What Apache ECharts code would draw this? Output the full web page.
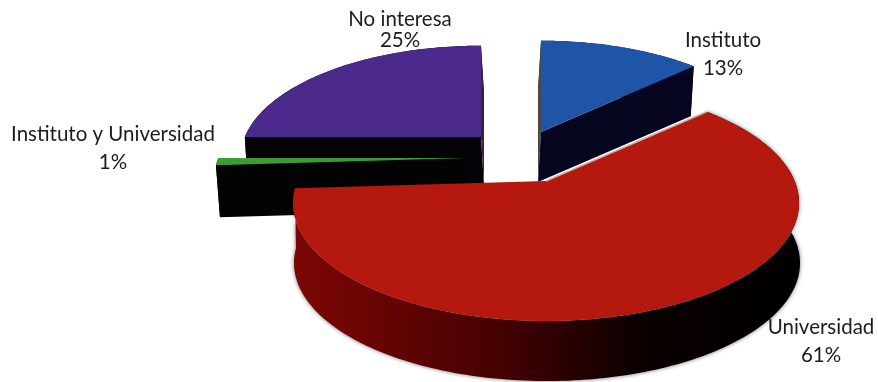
<!DOCTYPE html>
<html>
<head>
<meta charset="utf-8">
<style>html,body{margin:0;padding:0;background:#fff}#chart{width:878px;height:382px}</style>
<script src="https://cdn.jsdelivr.net/npm/echarts@6/dist/echarts.min.js"></script>
</head>
<body>
<div id="chart"></div>
<script>
// Share of respondents by planned study path (percent), clockwise from twelve o'clock.
var categories = ['Instituto', 'Universidad', 'Instituto y Universidad', 'No interesa'];
var percentages = [13, 61, 1, 25];

// Perspective of the tilted disc: half-width, half-height and foreshortening.
var DISC = { b: 248.6, a: 114, k: 0.186 };

// Placement of each exploded wedge, indexed like the categories.
var wedges = [
  { cx: 541, cy: 132, scale: 0.95, depth: 50, dx: -3, z: 2,
    top: '#1f55a6', arc: '#05051f', startWall: '#4b4a45', endWall: '#05051f',
    lx: 723, ly: 54, lh: 28 },
  { cx: 546, cy: 181, scale: 1, depth: 60, dx: 1, z: 6,
    top: '#b5180f',
    arc: { type: 'linear', x: 0, y: 0, x2: 1, y2: 0, colorStops: [
      { offset: 0, color: '#7d0705' }, { offset: 0.4, color: '#470101' },
      { offset: 0.68, color: '#0c0000' }, { offset: 1, color: '#000' }] },
    edge: '#cdb09f', lx: 821, ly: 341, lh: 28 },
  { cx: 467, cy: 158, scale: 1, depth: 52, dx: 4, z: 4,
    top: '#3f9b35', arc: '#030303', startWall: '#030303', endWall: '#030303',
    lx: 113, ly: 148, lh: 28 },
  { cx: 481, cy: 137, scale: 0.95, depth: 48, dx: 3, z: 1,
    top: '#4b2a8b', arc: '#050208', startWall: '#050208', endWall: '#3a2146',
    lx: 400, ly: 30, lh: 21 }
];

var total = percentages.reduce(function (s, v) { return s + v; }, 0);

function project(w, theta) {
  var u = Math.sin(theta), v = Math.cos(theta), s = 1 / (1 + DISC.k * v);
  return [w.cx + w.scale * DISC.b * u * s, w.cy - w.scale * DISC.a * v * s];
}

function arcPoints(w, from, to) {
  var pts = [], steps = Math.max(4, Math.ceil((to - from) / 0.02));
  for (var i = 0; i <= steps; i++) pts.push(project(w, from + (to - from) * i / steps));
  return pts;
}

function sink(w, p) { return [p[0] + w.dx, p[1] + w.depth]; }

function poly(points, fill, z2, extra) {
  var style = { fill: fill };
  if (extra) for (var key in extra) style[key] = extra[key];
  return { type: 'polygon', z2: z2, shape: { points: points }, style: style };
}

function renderWedge(params, api) {
  var i = params.dataIndex, w = wedges[i], before = 0;
  for (var n = 0; n < i; n++) before += percentages[n];
  var from = before / total * Math.PI * 2;
  var to = (before + api.value(0)) / total * Math.PI * 2;
  var apex = [w.cx, w.cy];
  var rim = arcPoints(w, from, to);
  var first = rim[0], last = rim[rim.length - 1];
  var band = rim.concat(rim.map(function (p) { return sink(w, p); }).reverse());
  var shadow = i === 1 ? { shadowBlur: 4, shadowColor: 'rgba(0,0,0,0.55)' } : null;

  var children = [poly(band, w.arc, w.z, shadow)];
  if (w.startWall) children.push(poly([apex, first, sink(w, first), sink(w, apex)], w.startWall, w.z));
  if (w.endWall) children.push(poly([apex, last, sink(w, last), sink(w, apex)], w.endWall, w.z));
  children.push(poly([apex].concat(rim), w.top, w.z + 1));
  if (w.edge) {
    children.push({ type: 'polyline', z2: w.z + 1, shape: { points: [first, apex] },
      style: { stroke: w.edge, lineWidth: 1.5, fill: null } });
  }
  children.push({ type: 'text', z2: 20, style: {
    text: categories[i] + '\n' + api.value(0) + '%',
    x: w.lx, y: w.ly, align: 'center', verticalAlign: 'middle',
    fill: '#1c1c1c', font: '20.5px Lato', lineHeight: w.lh
  } });
  return { type: 'group', children: children };
}

var chart = echarts.init(document.getElementById('chart'), null, { renderer: 'canvas' });
chart.setOption({
  animation: false,
  backgroundColor: '#ffffff',
  series: [{
    type: 'custom',
    coordinateSystem: 'none',
    renderItem: renderWedge,
    data: percentages.map(function (v, i) { return { name: categories[i], value: [v] }; })
  }]
});
</script>
</body>
</html>
